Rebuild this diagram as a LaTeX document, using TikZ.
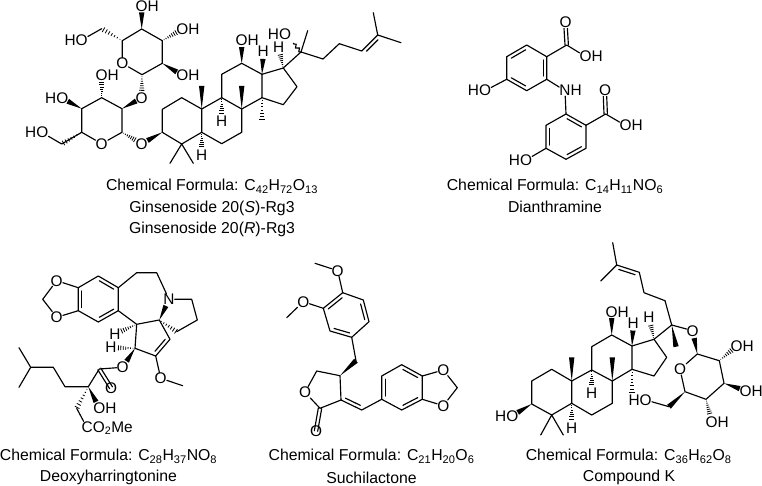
\documentclass[tikz,border=0pt]{standalone}
\usepackage{fontspec}
\setmainfont{Liberation Sans}
\usetikzlibrary{calc,decorations.pathmorphing}
\tikzset{
  bond/.style={line width=1.15pt,line join=round,line cap=round,black},
  hashl/.style={line width=0.8pt,black},
  atom/.style={inner sep=0pt,font=\fontsize{15.4}{17}\selectfont,text=black},
  caption/.style={inner sep=0pt,align=center,font=\fontsize{15.8}{18}\selectfont,text=black},
  wavy/.style={bond,decorate,decoration={snake,amplitude=1.6pt,segment length=5pt}}
}
\newcommand\wdg[3]{\coordinate (wtmp) at ($(#1)!#3!(#2)$);
  \fill[black] (#1) -- ($(wtmp)!2.7pt!90:(#1)$) -- ($(wtmp)!2.7pt!-90:(#1)$) -- cycle;}
\newcommand\hsh[3]{\foreach \s in {0.12,0.26,...,1.0}{
    \pgfmathsetmacro\ff{\s*#3}\pgfmathsetmacro\hw{\s*2.7}
    \coordinate (htmp) at ($(#1)!\ff!(#2)$);
    \draw[hashl] ($(htmp)!\hw pt!90:(#1)$) -- ($(htmp)!\hw pt!-90:(#1)$);}}
% inner line of a double bond, on the visual right of a->b
\newcommand\dbl[2]{\draw[bond] ($(#1)!0.14!(#2)!3.6pt!-90:(#2)$) -- ($(#2)!0.14!(#1)!3.6pt!90:(#1)$);}
\newcommand\cc[1]{\foreach \n/\x/\y in {#1}{\coordinate (\n) at (\x,\y);}}
\begin{document}
\begin{tikzpicture}[x=1pt,y=-1pt]
\useasboundingbox (0,0) rectangle (762,486);
\fill[white] (0,0) rectangle (762,486);
%% ===== Ginsenoside Rg3
\cc{a1/141.7/29,a2/162.3/40.7,a3/162.3/63.3,a4/142/74.7,a6/122.3/40.7,a7/101.7/28.7,
 b1/122/108.7,b2/122/132.3,b4/81.7/132.3,b5/81.7/108.7,b6/101.7/97.7,b7/61.7/144,
 c1/181.7/97.7,c2/162.3/109.3,c3/162.3/132.3,c4/181.7/144,c5/201.7/132.3,c6/221.7/143.7,
 c7/241.7/132.3,c8/241.7/109,c9/221.7/97.7,c10/201.7/109,c11/221.7/74.3,c12/241.7/63.3,
 c13/262/74.3,c14/262/97.7,c15/283.3/104.7,c16/297/86.7,c17/283.3/68,c20/301/52,
 c21/307.7/30.7,c22/323/59,c23/339.3/43.7,c24/361.7/51,c25/377.7/35,c26/373.3/12.7,c27/401/42.7,
 m4a/170/163.3,m4b/193.3/163.3,m10/201.7/86,m8/241.7/86,m14/262/120.7,wv/293.3/43.3}
\node[atom] (oa1) at (141.7,6) {O\rlap{H}};
\node[atom] (oa2) at (182.3,29) {O\rlap{H}};
\node[atom] (oa3) at (182.3,75.3) {O\rlap{H}};
\node[atom] (oa7) at (81.7,40) {\llap{H}O};
\node[atom] (oar) at (122.3,63.3) {O};
\node[atom] (ogl) at (141.7,98) {O};
\node[atom] (ob6) at (101.7,75.3) {O\rlap{H}};
\node[atom] (ob5) at (62.3,98.3) {\llap{H}O};
\node[atom] (ob7) at (42.3,132.7) {\llap{H}O};
\node[atom] (obr) at (101.7,143.7) {O};
\node[atom] (ob2) at (141.7,143.7) {O};
\node[atom] (h5) at (201.7,155) {H};
\node[atom] (h9) at (221.7,121.7) {H};
\node[atom] (o12) at (241.7,40.7) {O\rlap{H}};
\node[atom] (h13) at (263.3,51.7) {H};
\node[atom] (h17) at (278.7,47.2) {H};
\node[atom] (o20) at (285,34) {\llap{H}O};
\draw[bond] (a6)--(a1)--(a2)--(a3)--(a4)--(oar)--(a6);
\draw[bond] (a7)--(oa7);
\draw[bond] (b1)--(b2)--(obr)--(b4)--(b5)--(b6)--(b1);
\draw[bond] (b4)--(b7)--(ob7);
\draw[bond] (c3)--(c2)--(c1)--(c10)--(c5)--(c4)--(c3);
\draw[bond] (c5)--(c6)--(c7)--(c8)--(c9)--(c10);
\draw[bond] (c9)--(c11)--(c12)--(c13)--(c14)--(c8);
\draw[bond] (c14)--(c15)--(c16)--(c17)--(c13);
\draw[bond] (c4)--(m4a) (c4)--(m4b);
\draw[bond] (c17)--(c20)--(c21) (c20)--(c22)--(c23)--(c24)--(c25)--(c26) (c25)--(c27);
\dbl{c24}{c25}
\draw[wavy] (c20)--(wv);
\wdg{a1}{oa1}{0.72}\wdg{a3}{oa3}{0.72}\wdg{b1}{ogl}{0.72}\wdg{b5}{ob5}{0.72}\wdg{c3}{ob2}{0.72}
\wdg{c10}{m10}{1}\wdg{c8}{m8}{1}\wdg{c12}{o12}{0.72}\wdg{c13}{h13}{0.68}
\hsh{a2}{oa2}{0.72}\hsh{a6}{a7}{0.95}\hsh{a4}{ogl}{0.7}\hsh{b6}{ob6}{0.7}\hsh{b2}{ob2}{0.68}\hsh{b4}{b7}{0.95}
\hsh{c5}{h5}{0.66}\hsh{c9}{h9}{0.66}\hsh{c14}{m14}{1}\hsh{c17}{h17}{0.66}
\node[caption] (cap1a) at (212,186.7) {Chemical Formula: C\textsubscript{42}H\textsubscript{72}O\textsubscript{13}};
\node[caption] (cap1b) at (212,208) {Ginsenoside 20(\textit{S})-Rg3};
\node[caption] (cap1c) at (212,229) {Ginsenoside 20(\textit{R})-Rg3};
%% ===== Dianthramine
\cc{d1/546.7/56.7,d2/546.7/79.3,d3/526.7/90.7,d4/506.7/79.3,d5/506.7/56.7,d6/526.7/45,d7/566.7/45,
 e1/566/114,e2/586/125.3,e3/586/148.3,e4/566/159.3,e5/546/148.3,e6/546/125.3,e7/605.7/114}
\node[atom] (od1) at (565.7,22.7) {O};
\node[atom] (od2) at (585.7,56.7) {O\rlap{H}};
\node[atom] (od4) at (485,90.7) {\llap{H}O};
\node[atom] (nh) at (565,90.7) {N\rlap{H}};
\node[atom] (oe1) at (605,90.7) {O};
\node[atom] (oe2) at (625.7,125.7) {O\rlap{H}};
\node[atom] (oe5) at (526,160) {\llap{H}O};
\draw[bond] (d1)--(d2)--(d3)--(d4)--(d5)--(d6)--(d1);
\dbl{d5}{d6}\dbl{d1}{d2}\dbl{d3}{d4}
\draw[bond] (d1)--(d7)--(od2) (d4)--(od4) (d2)--(nh)--(e1);
\draw[bond] ([xshift=-1.7pt]d7)--([xshift=-1.7pt]od1.south) ([xshift=1.7pt]d7)--([xshift=1.7pt]od1.south);
\draw[bond] (e1)--(e2)--(e3)--(e4)--(e5)--(e6)--(e1);
\dbl{e1}{e2}\dbl{e3}{e4}\dbl{e5}{e6}
\draw[bond] (e2)--(e7)--(oe2) (e5)--(oe5);
\draw[bond] ([xshift=-1.7pt]e7)--([xshift=-1.7pt]oe1.south) ([xshift=1.7pt]e7)--([xshift=1.7pt]oe1.south);
\node[caption] (cap2a) at (555,186.7) {Chemical Formula: C\textsubscript{14}H\textsubscript{11}NO\textsubscript{6}};
\node[caption] (cap2b) at (555,207) {Dianthramine};
%% ===== Deoxyharringtonine
\cc{f0/42.7/299.3,f1/78.3/287.7,f2/78.3/310.7,f3/98.3/322,f4/118.3/310.7,f5/118.3/287.7,f6/98.3/276,
 g1/136.7/272.7,g2/156.7/272.7,g3/191.7/299.3,g4/197.3/320,g5/176.7/331.7,
 k1/159.3/320,k2/136.7/324.3,k3/135/348.3,k4/155.7/356,k5/170/339.3,kme/182.7/385.7,
 s1/99.3/369,s2/88.3/386.7,s3/65/386.7,s4/53.3/367.3,s5/30.7/367.3,s6/19/347.7,s7/19/387.3,s8/76.7/408.3}
\node[atom] (of1) at (56.7,280.7) {O};
\node[atom] (of2) at (56.7,317.3) {O};
\node[atom] (nf) at (169,299.3) {N};
\node[atom] (hk2) at (115,334) {H};
\node[atom] (hk3) at (111,347.7) {H};
\node[atom] (ok4) at (160.7,378.3) {O};
\node[atom] (oes) at (122.7,367.3) {O};
\node[atom] (oeq) at (111,387.7) {O};
\node[atom] (osh) at (99.3,408.3) {O\rlap{H}};
\node[atom] (co) at (87.3,428.3) {C\rlap{O\textsubscript{2}Me}};
\draw[bond] (f0)--(of1)--(f1) (f0)--(of2)--(f2);
\draw[bond] (f1)--(f2)--(f3)--(f4)--(f5)--(f6)--(f1);
\dbl{f2}{f1}\dbl{f4}{f3}\dbl{f6}{f5}
\draw[bond] (f5)--(g1)--(g2)--(nf)--(g3)--(g4)--(g5);
\draw[bond] (f4)--(k2)--(k1)--(k5)--(k4)--(k3)--(k2);
\dbl{k5}{k4}
\draw[bond] (k4)--(ok4)--(kme);
\wdg{k1}{nf}{0.68}\wdg{k3}{oes}{0.68}
\hsh{k1}{g5}{1}\hsh{k2}{hk2}{0.72}\hsh{k3}{hk3}{0.72}
\draw[bond] (oes)--(s1)--(s2)--(s3)--(s4)--(s5)--(s6) (s5)--(s7);
\draw[bond] ($(s1)!1.7pt!90:(oeq)$)--($(oeq)!1.7pt!-90:(s1)$) ($(s1)!1.7pt!-90:(oeq)$)--($(oeq)!1.7pt!90:(s1)$);
\wdg{s2}{osh}{0.7}\hsh{s2}{s8}{1}
\draw[bond] (s8)--(co);
\node[caption] (cap3a) at (108.5,456.7) {Chemical Formula: C\textsubscript{28}H\textsubscript{37}NO\textsubscript{8}};
\node[caption] (cap3b) at (108.5,477.7) {Deoxyharringtonine};
%% ===== Suchilactone
\cc{q1/342.7/292.7,q2/323.3/308.3,q3/330/331,q4/351.7/337.3,q5/369/321.7,q6/363.3/300,
 qm1/315/263.3,qm2/286.7/317.7,r0/356/360.7,r1/340/375.7,r2/316.7/371,r3/320/408.3,r4/341/400,r5/361.7/410,
 n1/381.7/399.3,n2/381.7/376,n3/401.7/364.7,n4/422.3/376,n5/422.3/399.3,n6/401.7/410,n7/457.3/387.7}
\node[atom] (oq1) at (337.7,270.7) {O};
\node[atom] (oq2) at (303.3,301.7) {O};
\node[atom] (orr) at (305,392.3) {O};
\node[atom] (ocq) at (316,431) {O};
\node[atom] (on1) at (443.3,370) {O};
\node[atom] (on2) at (443.3,405.7) {O};
\draw[bond] (qm1)--(oq1)--(q1) (qm2)--(oq2)--(q2);
\draw[bond] (q1)--(q2)--(q3)--(q4)--(q5)--(q6)--(q1);
\dbl{q2}{q1}\dbl{q4}{q3}\dbl{q6}{q5}
\draw[bond] (q4)--(r0);
\wdg{r1}{r0}{1}
\draw[bond] (r1)--(r2)--(orr)--(r3)--(r4)--(r1);
\draw[bond] ($(r3)!1.7pt!90:(ocq)$)--($(ocq)!1.7pt!-90:(r3)$) ($(r3)!1.7pt!-90:(ocq)$)--($(ocq)!1.7pt!90:(r3)$);
\draw[bond] (r4)--(r5)--(n1);
\dbl{r5}{r4}
\draw[bond] (n1)--(n2)--(n3)--(n4)--(n5)--(n6)--(n1);
\dbl{n1}{n2}\dbl{n3}{n4}\dbl{n5}{n6}
\draw[bond] (n4)--(on1)--(n7)--(on2)--(n5);
\node[caption] (cap4a) at (371.5,456.7) {Chemical Formula: C\textsubscript{21}H\textsubscript{20}O\textsubscript{6}};
\node[caption] (cap4b) at (371.5,477.7) {Suchilactone};
%% ===== Compound K
\cc{u1/551.7/369.3,u2/531.7/381,u3/531.7/404,u4/551.7/415,u5/571.7/403.3,u6/591.7/415,u7/612.3/403.3,
 u8/612.3/381,u9/591.7/370,u10/571.7/381,u11/591.7/346.7,u12/611.7/335,u13/632/346,u14/632/369.3,
 u15/654/376,u16/666.7/357.3,u17/654/339.3,u20/671.7/325,u21/676/346.7,u22/665/300.7,u23/644/292.7,
 u24/639.3/272.3,u25/616.7/265,u26/612.7/242.7,u27/600.7/281,
 um4a/540.7/435,um4b/563.3/435,um10/571.7/357.3,um8/612.3/357.3,um14/632/393.3,
 p1/697.3/354,p2/719.3/360.7,p3/724/383.3,p4/706/399.3,p5/685/391.7,p6/669/406.7}
\node[atom] (ou20) at (692.7,330.7) {O};
\node[atom] (hu17) at (649,317.7) {H};
\node[atom] (hu13) at (633.3,323.3) {H};
\node[atom] (ou12) at (611.7,311.7) {O\rlap{H}};
\node[atom] (ou3) at (512.3,415.7) {\llap{H}O};
\node[atom] (hu5) at (571.7,428.3) {H};
\node[atom] (hu9) at (591.7,393.3) {H};
\node[atom] (opr) at (680,369.3) {O};
\node[atom] (op2) at (736.7,346) {O\rlap{H}};
\node[atom] (op3) at (745.7,390.7) {O\rlap{H}};
\node[atom] (op4) at (711.7,421.7) {O\rlap{H}};
\node[atom] (op6) at (645.7,400) {\llap{H}O};
\draw[bond] (u1)--(u2)--(u3)--(u4)--(u5)--(u10)--(u1);
\draw[bond] (u5)--(u6)--(u7)--(u8)--(u9)--(u10);
\draw[bond] (u9)--(u11)--(u12)--(u13)--(u14)--(u8);
\draw[bond] (u14)--(u15)--(u16)--(u17)--(u13);
\draw[bond] (u17)--(u20)--(u22)--(u23)--(u24)--(u25)--(u26) (u25)--(u27);
\dbl{u25}{u24}
\draw[bond] (u4)--(um4a) (u4)--(um4b) (u20)--(ou20);
\wdg{u20}{u21}{1}\wdg{u10}{um10}{1}\wdg{u8}{um8}{1}\wdg{u12}{ou12}{0.72}\wdg{u13}{hu13}{0.68}\wdg{u3}{ou3}{0.72}
\hsh{u17}{hu17}{0.66}\hsh{u14}{um14}{1}\hsh{u5}{hu5}{0.66}\hsh{u9}{hu9}{0.66}
\draw[bond] (p1)--(p2)--(p3)--(p4)--(p5)--(opr)--(p1);
\wdg{p1}{ou20}{0.68}\wdg{p3}{op3}{0.72}\wdg{p5}{p6}{1}
\hsh{p2}{op2}{0.72}\hsh{p4}{op4}{0.66}
\draw[bond] (p6)--(op6);
\node[caption] (cap5a) at (628.7,456.7) {Chemical Formula: C\textsubscript{36}H\textsubscript{62}O\textsubscript{8}};
\node[caption] (cap5b) at (629,477.7) {Compound K};
\end{tikzpicture}
\end{document}
